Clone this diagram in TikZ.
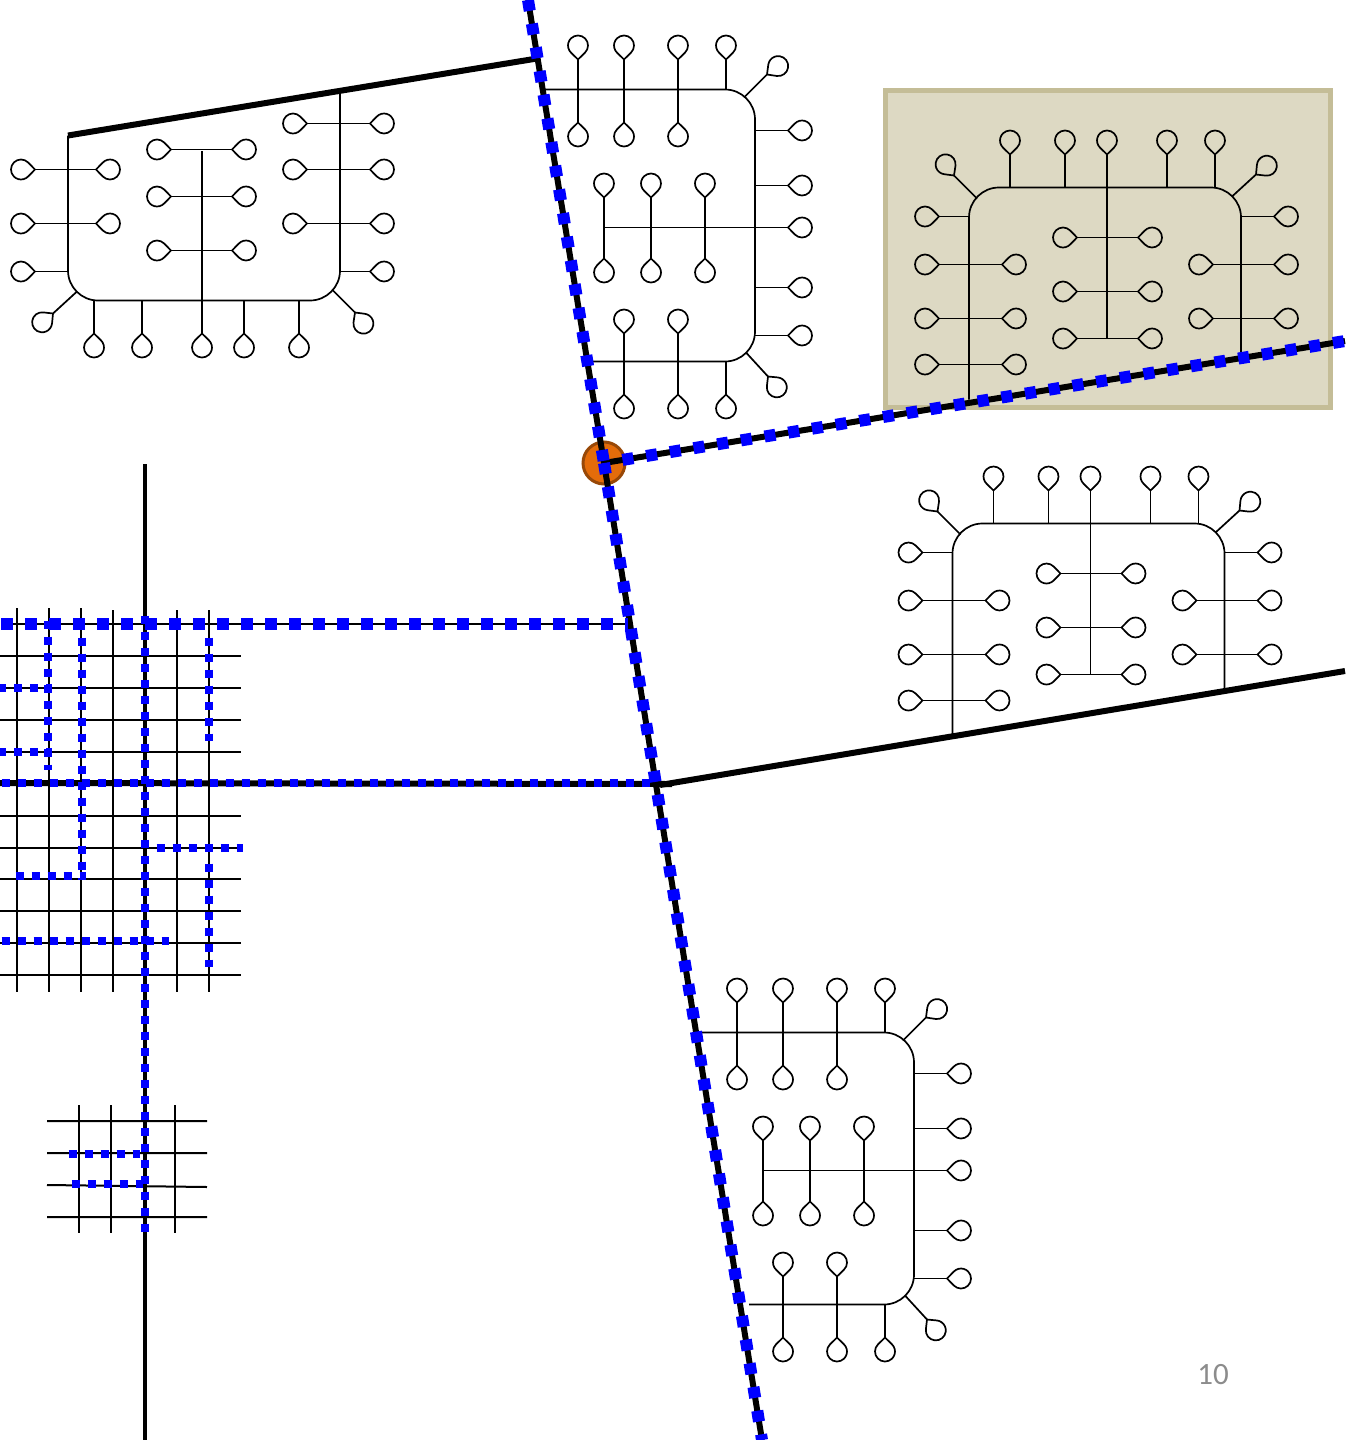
\documentclass[tikz,border=0pt]{standalone}
\usepackage{fontspec}
\newfontfamily\pagefont{Carlito}
\usetikzlibrary{shapes.geometric}
\definecolor{orangehub}{HTML}{E46C0A}
\definecolor{orangerim}{HTML}{984807}
\definecolor{sandfill}{HTML}{DDD9C3}
\definecolor{sandrim}{HTML}{C4BD97}
\tikzset{
	every pic/.style={transform shape},
	leaf/.pic={\draw[wire,rotate=#1](0,0)--(6.86,7)arc[start angle=135.6,end angle=-135.6,radius=10]--cycle;},
	block/.pic={
		\draw[wire,rounded corners=30pt](-138,212)--(-138,0)--(134,0)--(134,165);
		\draw[wire](0,-33)--(0,150);
		\draw[wire](-97,0)--(-97,-33)(-42,0)--(-42,-33)(60,0)--(60,-33)(108,0)--(108,-33);
		\pic at (-97,-33) {leaf=90};
		\pic at (-42,-33) {leaf=90};
		\pic at (0,-33) {leaf=90};
		\pic at (60,-33) {leaf=90};
		\pic at (108,-33) {leaf=90};
		\draw[wire](-130,11)--(-153,-12)(125,9)--(149,-13);
		\pic at (-153,-12) {leaf=127};
		\pic at (149,-13) {leaf=39};
		\draw[wire](-138,29)--(-168,29)(134,29)--(167,29);
		\pic at (-168,29) {leaf=180};
		\pic at (167,29) {leaf=0};
		\draw[wire](-168,77)--(-105,77)(-168,131)--(-105,131)(-168,177)--(-105,177);
		\pic at (-168,77) {leaf=180};
		\pic at (-105,77) {leaf=0};
		\pic at (-168,131) {leaf=180};
		\pic at (-105,131) {leaf=0};
		\pic at (-168,177) {leaf=180};
		\pic at (-105,177) {leaf=0};
		\draw[wire](-30,50)--(31,50)(-30,104)--(31,104)(-30,151)--(31,151);
		\pic at (-30,50) {leaf=180};
		\pic at (31,50) {leaf=0};
		\pic at (-30,104) {leaf=180};
		\pic at (31,104) {leaf=0};
		\pic at (-30,151) {leaf=180};
		\pic at (31,151) {leaf=0};
		\draw[wire](106,77)--(167,77)(106,131)--(167,131);
		\pic at (106,77) {leaf=180};
		\pic at (167,77) {leaf=0};
		\pic at (106,131) {leaf=180};
		\pic at (167,131) {leaf=0};
	}
}

\begin{document}
\begin{tikzpicture}[x=1pt,y=-1pt]
		\tikzstyle{wire}=[line width=1.7pt];
		\tikzstyle{gridline}=[line width=2pt];
		\tikzstyle{road}=[line width=6pt];
		\tikzstyle{wideroute}=[blue,line width=12pt,dash pattern=on 11pt off 13pt];
		\tikzstyle{narrowroute}=[blue,line width=8pt,dash pattern=on 8pt off 8pt];
		\useasboundingbox(0,0)rectangle(1345,1440);

		\node[draw=sandrim,fill=sandfill,line width=5pt,inner sep=0pt,minimum width=445pt,minimum height=317pt](panel)at(1107.5,248.5){};
		\pic at (1107,187.5) {block};
		\pic at (1090.5,523.5) {block};
		\pic[rotate=180] at (202,300.5) {block};
		\pic[rotate=-90] at (755,227.5) {block};
		\pic[rotate=-90] at (914,1170.5) {block};

		\node[circle,draw=orangerim,fill=orangehub,line width=3pt,minimum size=42pt,inner sep=0pt](hub)at(604,463){};
		\coordinate(northend)at(528,0);
		\coordinate(southend)at(762,1440);
		\coordinate(eastend)at(1345,341);
		\coordinate(eastroute)at(622.5,459.9);
		\coordinate(lowereast)at(1345,671);
		\coordinate(lowerfork)at(660,785);
		\coordinate(upperwest)at(68,135.5);
		\coordinate(upperfork)at(540,58);
		\coordinate(westend)at(0,783);
		\coordinate(westfork)at(672,784);
		\coordinate(westroute)at(1.5,783);
		\coordinate(weststop)at(656,783);
		\coordinate(topwest)at(1,623.5);
		\coordinate(topfork)at(628,623.5);
		\coordinate(mainnorth)at(145,464);
		\coordinate(mainsouth)at(145,1440);

		% large grid
		\draw[gridline](17,608)--(17,992)(49,608)--(49,992)(81,608)--(81,992)(113,610)--(113,992);
		\draw[gridline](177,610)--(177,992)(209,610)--(209,992);
		\draw[gridline](0,656)--(241,656)(0,688)--(241,688)(0,720)--(241,720)(0,752)--(241,752);
		\draw[gridline](0,816)--(241,816)(0,848)--(241,848)(0,878.5)--(241,878.5);
		\draw[gridline](0,910.5)--(241,910.5)(0,942.5)--(241,942.5)(0,974.5)--(241,974.5);
		\draw[gridline](topwest)--(topfork);

		% small grid
		\draw[gridline](79,1105)--(79,1233)(111,1105)--(111,1233)(175,1105)--(175,1233);
		\draw[gridline](47,1121)--(207,1121)(47,1153)--(207,1153)(47,1185)--(207,1187)(47,1217)--(207,1217);

		% roads
		\draw[road,line width=4pt](mainnorth)--(mainsouth);
		\draw[road](westend)--(westfork);
		\draw[road](upperwest)--(upperfork);
		\draw[road](lowerfork)--(lowereast);
		\draw[road](hub.center)--(eastend);
		\draw[road](northend)--(hub.center)--(southend);

		% routes
		\draw[wideroute,dash pattern=on 12pt off 12pt](topwest)--(topfork);
		\draw[narrowroute](westroute)--(weststop);
		\draw[narrowroute](145,615.5)--(145,1235);
		\draw[narrowroute](48,620.5)--(48,770);
		\draw[narrowroute](82,637.5)--(82,880);
		\draw[narrowroute](209,637.5)--(209,741);
		\draw[narrowroute](-2,688)--(52,688);
		\draw[narrowroute](-2,752)--(52,752);
		\draw[narrowroute](156.5,847.5)--(243,847.5);
		\draw[narrowroute](209,863.5)--(209,967);
		\draw[narrowroute](15.5,876)--(86,876);
		\draw[narrowroute](1.5,941)--(168.5,941);
		\draw[narrowroute](68.5,1154)--(140,1154);
		\draw[narrowroute](71.5,1184)--(143,1184);
		\draw[wideroute](northend)--(hub.center);
		\draw[wideroute](hub.center)--(southend);
		\draw[wideroute](eastroute)--(eastend);

		\node[text=black!45,font=\pagefont\fontsize{31}{36}\selectfont,inner sep=0pt](pageno)at(1213,1374.5){10};
	\end{tikzpicture}
\end{document}
